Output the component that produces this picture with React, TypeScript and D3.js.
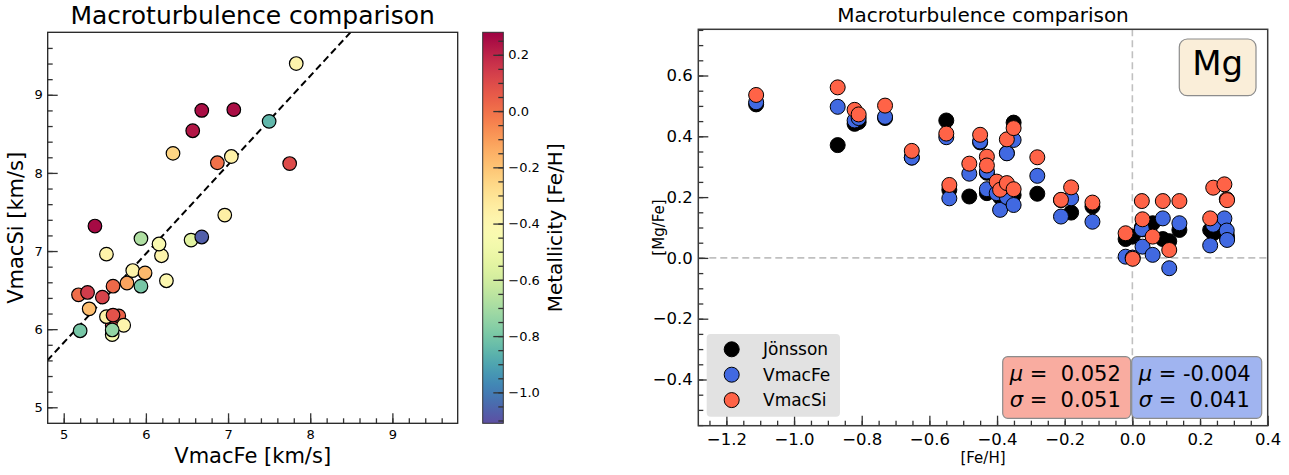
import React, { useEffect, useRef } from "react";
import * as d3 from "d3";

const FONT = "DejaVu Sans, Verdana, sans-serif";

// left panel: Vmac from Fe lines vs Vmac from Si lines, coloured by [Fe/H]
const vmacFe = [5.59, 5.59, 5.52, 5.67, 5.6, 5.73, 5.59, 5.2, 5.31, 5.18, 5.29, 5.47, 5.6, 5.77, 5.94, 5.84, 5.99, 6.25, 5.52, 6.19, 6.16, 5.94, 6.55, 6.68, 5.38, 6.96, 6.87, 7.75, 7.04, 6.33, 7.5, 6.57, 6.68, 7.07, 7.83];
const vmacSi = [6.05, 5.93, 6.16, 6.17, 6.18, 6.05, 5.99, 5.98, 6.26, 6.44, 6.47, 6.41, 6.55, 6.59, 6.55, 6.75, 6.72, 6.62, 6.96, 6.94, 7.09, 7.16, 7.14, 7.18, 7.32, 7.46, 8.13, 8.12, 8.21, 8.25, 8.66, 8.54, 8.8, 8.81, 9.4];
const metallicity = [0.1, -0.45, -0.36, 0.04, 0.08, -0.38, -0.74, -0.8, -0.18, 0.01, 0.14, 0.12, 0.02, -0.12, -0.8, -0.37, -0.17, -0.4, -0.37, -0.38, -0.43, -0.68, -0.55, -1.07, 0.26, -0.35, 0.0, 0.1, -0.36, -0.25, -0.85, 0.23, 0.25, 0.25, -0.38];

// one-to-one line drawn in the left panel
const fitSlope = 1.138;
const fitIntercept = 0.137;

// right panel: [Mg/Fe] vs [Fe/H] for the three Vmac choices
const feH = [-1.112, -0.871, -0.821, -0.809, -0.731, -0.652, -0.55, -0.541, -0.482, -0.45, -0.43, -0.43, -0.401, -0.391, -0.371, -0.371, -0.351, -0.351, -0.281, -0.211, -0.181, -0.118, -0.02, 0.001, 0.03, 0.028, 0.06, 0.09, 0.109, 0.139, 0.23, 0.239, 0.272, 0.279, 0.28];
const mgJonsson = [0.505, 0.371, 0.441, 0.447, 0.46, 0.33, 0.452, 0.224, 0.202, 0.38, 0.28, 0.213, 0.23, 0.2, 0.345, 0.215, 0.445, 0.207, 0.211, 0.19, 0.149, 0.169, 0.062, 0.07, 0.094, 0.1, 0.114, 0.062, 0.055, 0.092, 0.092, 0.081, 0.1, 0.075, 0.065];
const mgVmacFe = [0.512, 0.497, 0.452, 0.46, 0.464, 0.33, 0.397, 0.196, 0.277, 0.383, 0.284, 0.226, 0.213, 0.158, 0.344, 0.2, 0.388, 0.174, 0.27, 0.136, 0.196, 0.119, 0.004, 0.001, 0.037, 0.095, 0.01, 0.13, -0.034, 0.114, 0.041, 0.109, 0.13, 0.09, 0.059];
const mgVmacSi = [0.536, 0.561, 0.487, 0.472, 0.501, 0.352, 0.409, 0.24, 0.31, 0.405, 0.333, 0.304, 0.251, 0.224, 0.39, 0.246, 0.427, 0.226, 0.331, 0.191, 0.232, 0.182, 0.081, -0.003, 0.127, 0.187, 0.07, 0.187, 0.026, 0.187, 0.13, 0.231, 0.242, 0.193, 0.19];

const leftTicks = [5, 6, 7, 8, 9];
const cbarTicks = [0.2, 0.0, -0.2, -0.4, -0.6, -0.8, -1.0];
const rightXTicks = [-1.2, -1.0, -0.8, -0.6, -0.4, -0.2, 0.0, 0.2, 0.4];
const rightYTicks = [-0.4, -0.2, 0.0, 0.2, 0.4, 0.6];
const seriesNames = ["Jönsson", "VmacFe", "VmacSi"];
const seriesColors = ["black", "royalblue", "tomato"];
const statSi = ["0.052", "0.051"]; // mu, sigma for VmacSi
const statFe = ["-0.004", "0.041"]; // mu, sigma for VmacFe

const range = (a: number, b: number, s: number) => {
  const out: number[] = [];
  for (let v = a; v <= b + 1e-9; v += s) out.push(+v.toFixed(3));
  return out;
};

const fmt1 = (v: number) => (v < 0 ? "\u2212" : "") + Math.abs(v).toFixed(1);

export default function App() {
  const ref = useRef<SVGSVGElement>(null);

  useEffect(() => {
    const svg = d3.select(ref.current);
    svg.selectAll("*").remove();

    // helper for inward ticks (major + minor)
    const drawAxis = (
      g: any,
      axisFn: any,
      scale: any,
      major: number[],
      minor: number[],
      pad: number,
      fontSize: number,
      format: (v: number) => string
    ) => {
      g.append("g")
        .call(axisFn(scale).tickValues(minor).tickSizeInner(-5).tickSizeOuter(0).tickFormat(() => ""))
        .call((s: any) => s.select(".domain").remove());
      g.append("g")
        .call(axisFn(scale).tickValues(major).tickSizeInner(-10).tickSizeOuter(0).tickPadding(pad).tickFormat(format))
        .call((s: any) => s.select(".domain").remove())
        .attr("font-family", FONT)
        .attr("font-size", fontSize);
      g.selectAll("line").attr("stroke", "#333").attr("stroke-width", 1.3);
      g.selectAll("text").attr("fill", "#000");
    };

    // ---------- left panel ----------
    const L = { left: 47.7, right: 457.7, top: 32.3, bottom: 423.3 };
    const x = d3.scaleLinear().domain([4.805, 9.795]).range([L.left, L.right]);
    const y = d3.scaleLinear().domain([4.795, 9.8]).range([L.bottom, L.top]);
    const cMin = -1.11, cMax = 0.28;
    const cmap = (v: number) => d3.interpolateSpectral(1 - (v - cMin) / (cMax - cMin));

    const defs = svg.append("defs");
    defs.append("clipPath").attr("id", "clipL")
      .append("rect").attr("x", L.left).attr("y", L.top)
      .attr("width", L.right - L.left).attr("height", L.bottom - L.top);

    const lx = [4.8, 9.8];
    svg.append("path")
      .attr("clip-path", "url(#clipL)")
      .attr("d", d3.line<number>().x((d) => x(d)).y((d) => y(fitSlope * d + fitIntercept))(lx))
      .attr("fill", "none").attr("stroke", "black").attr("stroke-width", 2)
      .attr("stroke-dasharray", "7,4");

    svg.append("g").attr("clip-path", "url(#clipL)")
      .selectAll("circle").data(vmacFe).enter().append("circle")
      .attr("cx", (d) => x(d))
      .attr("cy", (_d, i) => y(vmacSi[i]))
      .attr("r", 6.8)
      .attr("fill", (_d, i) => cmap(metallicity[i]))
      .attr("stroke", "black").attr("stroke-width", 1.2);

    drawAxis(svg.append("g").attr("transform", `translate(0,${L.bottom})`), d3.axisBottom, x,
      leftTicks, range(5, 9.6, 0.2), 6, 13, (v) => String(v));
    drawAxis(svg.append("g").attr("transform", `translate(${L.left},0)`), d3.axisLeft, y,
      leftTicks, range(5, 9.6, 0.2), 5, 13, (v) => String(v));

    svg.append("rect").attr("x", L.left).attr("y", L.top)
      .attr("width", L.right - L.left).attr("height", L.bottom - L.top)
      .attr("fill", "none").attr("stroke", "#222").attr("stroke-width", 1.3);

    svg.append("text").attr("x", (L.left + L.right) / 2).attr("y", 24)
      .attr("text-anchor", "middle").attr("font-family", FONT).attr("font-size", 25)
      .text("Macroturbulence comparison");
    svg.append("text").attr("x", (L.left + L.right) / 2).attr("y", 463)
      .attr("text-anchor", "middle").attr("font-family", FONT).attr("font-size", 21)
      .text("VmacFe [km/s]");
    svg.append("text").attr("transform", `translate(23,${(L.top + L.bottom) / 2}) rotate(-90)`)
      .attr("text-anchor", "middle").attr("font-family", FONT).attr("font-size", 21)
      .text("VmacSi [km/s]");

    // ---------- colorbar ----------
    const C = { left: 482.7, right: 503.3, top: 32.3, bottom: 423.3 };
    const cy = d3.scaleLinear().domain([cMin, cMax]).range([C.bottom, C.top]);
    const grad = defs.append("linearGradient").attr("id", "cbar")
      .attr("x1", 0).attr("y1", 0).attr("x2", 0).attr("y2", 1);
    d3.range(0, 41).forEach((i) => {
      const v = cMax - (i / 40) * (cMax - cMin);
      grad.append("stop").attr("offset", i / 40).attr("stop-color", cmap(v));
    });
    svg.append("rect").attr("x", C.left).attr("y", C.top)
      .attr("width", C.right - C.left).attr("height", C.bottom - C.top)
      .attr("fill", "url(#cbar)");
    drawAxis(svg.append("g").attr("transform", `translate(${C.right},0)`), d3.axisRight, cy,
      cbarTicks, range(-1.1, 0.25, 0.05), 5, 13, fmt1);
    svg.append("rect").attr("x", C.left).attr("y", C.top)
      .attr("width", C.right - C.left).attr("height", C.bottom - C.top)
      .attr("fill", "none").attr("stroke", "#333").attr("stroke-width", 1);
    svg.append("text").attr("transform", `translate(562,${(C.top + C.bottom) / 2}) rotate(-90)`)
      .attr("text-anchor", "middle").attr("font-family", FONT).attr("font-size", 20)
      .text("Metallicity [Fe/H]");

    // ---------- right panel ----------
    const R = { left: 698.3, right: 1267.7, top: 29.3, bottom: 425.7 };
    const rx = d3.scaleLinear().domain([-1.283, 0.4]).range([R.left, R.right]);
    const ry = d3.scaleLinear().domain([-0.552, 0.752]).range([R.bottom, R.top]);

    const ref0 = svg.append("g").attr("stroke", "#c0c0c0").attr("stroke-width", 1.6)
      .attr("stroke-dasharray", "7,4");
    ref0.append("line").attr("x1", R.left).attr("x2", R.right).attr("y1", ry(0)).attr("y2", ry(0));
    ref0.append("line").attr("x1", rx(0)).attr("x2", rx(0)).attr("y1", R.top).attr("y2", R.bottom);

    [mgJonsson, mgVmacFe, mgVmacSi].forEach((series, k) => {
      svg.append("g").selectAll("circle").data(series).enter().append("circle")
        .attr("cx", (_d, i) => rx(feH[i]))
        .attr("cy", (d) => ry(d))
        .attr("r", 7.5)
        .attr("fill", seriesColors[k])
        .attr("stroke", "black").attr("stroke-width", 1);
    });

    drawAxis(svg.append("g").attr("transform", `translate(0,${R.bottom})`), d3.axisBottom, rx,
      rightXTicks, range(-1.25, 0.4, 0.05), 7.5, 16.5, fmt1);
    drawAxis(svg.append("g").attr("transform", `translate(${R.left},0)`), d3.axisLeft, ry,
      rightYTicks, range(-0.55, 0.75, 0.05), 5.5, 16.5, fmt1);

    svg.append("rect").attr("x", R.left).attr("y", R.top)
      .attr("width", R.right - R.left).attr("height", R.bottom - R.top)
      .attr("fill", "none").attr("stroke", "#3a3a3a").attr("stroke-width", 1.5);

    svg.append("text").attr("x", (R.left + R.right) / 2).attr("y", 22)
      .attr("text-anchor", "middle").attr("font-family", FONT).attr("font-size", 20)
      .text("Macroturbulence comparison");
    svg.append("text").attr("x", (R.left + R.right) / 2).attr("y", 463)
      .attr("text-anchor", "middle").attr("font-family", FONT).attr("font-size", 15)
      .text("[Fe/H]");
    svg.append("text").attr("transform", `translate(664,${(R.top + R.bottom) / 2}) rotate(-90)`)
      .attr("text-anchor", "middle").attr("font-family", FONT).attr("font-size", 15)
      .text("[Mg/Fe]");

    // element label box
    svg.append("rect").attr("x", 1179.3).attr("y", 39).attr("width", 76.7).attr("height", 56.7)
      .attr("rx", 8).attr("fill", "#faeed9").attr("stroke", "#8c8c8c").attr("stroke-width", 1.2);
    svg.append("text").attr("x", 1217.7).attr("y", 75).attr("text-anchor", "middle")
      .attr("font-family", FONT).attr("font-size", 34).text("Mg");

    // legend
    const leg = svg.append("g");
    leg.append("rect").attr("x", 706.7).attr("y", 334).attr("width", 133.3).attr("height", 82.7)
      .attr("rx", 4).attr("fill", "#e2e2e2");
    seriesNames.forEach((name, k) => {
      const yy = 349.3 + k * 25.4;
      leg.append("circle").attr("cx", 731.7).attr("cy", yy).attr("r", 7.5)
        .attr("fill", seriesColors[k]).attr("stroke", "black").attr("stroke-width", 1);
      leg.append("text").attr("x", 763).attr("y", yy).attr("dy", "0.36em")
        .attr("font-family", FONT).attr("font-size", 17).text(name);
    });

    // mean / scatter boxes
    const boxes = [
      { x: 1002.7, w: 128, fill: "#f9aca0", vals: statSi },
      { x: 1131.7, w: 130, fill: "#a0b4f0", vals: statFe },
    ];
    boxes.forEach((b) => {
      svg.append("rect").attr("x", b.x).attr("y", 356.7).attr("width", b.w).attr("height", 61.6)
        .attr("rx", 5).attr("fill", b.fill).attr("stroke", "#8c8c8c").attr("stroke-width", 1.2);
      ["\u03bc", "\u03c3"].forEach((sym, j) => {
        const v = b.vals[j];
        const t = svg.append("text").attr("x", b.x + 7).attr("y", 380.7 + j * 26)
          .attr("font-family", FONT).attr("font-size", 21).style("white-space", "pre");
        t.append("tspan").attr("font-style", "italic").text(sym);
        t.append("tspan").text(" = " + (v.startsWith("-") ? v : " " + v));
      });
    });
  }, []);

  return (
    <svg
      ref={ref}
      width={1289}
      height={475}
      style={{ position: "absolute", left: 0, top: 0, background: "white" }}
    />
  );
}
